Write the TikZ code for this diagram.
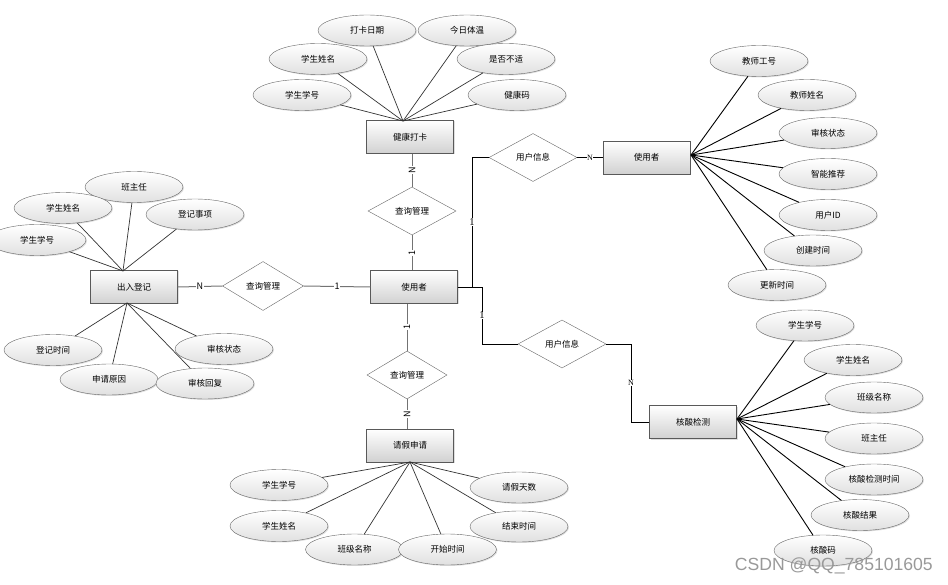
\documentclass[tikz,border=0pt]{standalone}
\usepackage{fontspec}
\setmainfont{Noto Sans CJK SC}
\newfontfamily\serifl{Liberation Serif}
\newfontfamily\wmfont{Liberation Sans}
\usetikzlibrary{shapes.geometric,shadows}
\begin{document}
\begin{tikzpicture}[x=1pt,y=-1pt,
  font=\fontsize{8.5}{10}\selectfont,
  attr/.style={ellipse,draw=black!60,top color=white,bottom color=black!12,
    minimum width=98,minimum height=31,inner sep=0pt,
    drop shadow={shadow xshift=1pt,shadow yshift=-1pt,opacity=0.25}},
  ent/.style={rectangle,draw=black!65,top color=white,bottom color=black!18,
    minimum width=87,minimum height=33,inner sep=0pt,
    drop shadow={shadow xshift=1pt,shadow yshift=-1pt,opacity=0.25}},
  rel/.style={diamond,draw=black!60,fill=white,minimum width=88,minimum height=48,
    inner sep=0pt,shape aspect=1.8},
  ln/.style={draw=black!80,line width=0.7pt},
  rl/.style={draw=black!55,line width=1pt},
  cl/.style={draw=black,line width=0.9pt},
  lab/.style={fill=white,inner sep=0.6pt,font=\fontsize{9}{10}\selectfont},
  slab/.style={fill=white,inner sep=0.5pt,font=\serifl\fontsize{10.5}{10}\selectfont},
]
\useasboundingbox (0,0) rectangle (948,585);

% ---------- entities ----------
\node[ent] (jkdk) at (410,137) {健康打卡};
\node[ent] (syz) at (414,287) {使用者};
\node[ent] (ldj) at (134,287) {出入登记};
\node[ent] (qjsq) at (410,445.5) {请假申请};
\node[ent] (syr) at (646.5,157.5) {使用者};
\node[ent] (hsjc) at (693,422) {核酸检测};

% ---------- relations ----------
\node[rel] (cxT) at (412,211) {查询管理};
\node[rel,minimum width=80] (cxB) at (407,375) {查询管理};
\node[rel,minimum width=81,minimum height=49] (cxL) at (263,286) {查询管理};
\node[rel] (yh1) at (533,157.5) {用户信息};
\node[rel] (yh2) at (562,344) {用户信息};

% ---------- attribute convergence points ----------
\coordinate (cJ) at (403,121);
\coordinate (cLt) at (123,271);
\coordinate (cLb) at (127,303);
\coordinate (cR) at (691,155);
\coordinate (cH) at (737,419);
\coordinate (cQ) at (410,462);
\coordinate (k1) at (472,287);
\coordinate (k2) at (482,287);
\coordinate (k3) at (631,422);

% ---------- 健康打卡 attributes ----------
\node[attr] (j1) at (367,30.5) {打卡日期};
\node[attr] (j2) at (467,30.5) {今日体温};
\node[attr] (j3) at (318,59) {学生姓名};
\node[attr] (j4) at (506,59) {是否不适};
\node[attr] (j5) at (302,95) {学生学号};
\node[attr] (j6) at (517,95) {健康码};
\foreach \n in {j1,j2,j3,j4,j5,j6} \draw[ln] (\n) -- (cJ);

% ---------- 出入登记 attributes ----------
\node[attr] (l1) at (134,187) {班主任};
\node[attr] (l2) at (63,208) {学生姓名};
\node[attr] (l3) at (195,214.5) {登记事项};
\node[attr] (l4) at (37,240) {学生学号};
\foreach \n in {l1,l2,l3,l4} \draw[ln] (\n) -- (cLt);
\node[attr] (l5) at (53,350) {登记时间};
\node[attr] (l6) at (109,379.5) {申请原因};
\node[attr] (l7) at (224,349) {审核状态};
\node[attr] (l8) at (205,383.5) {审核回复};
\foreach \n in {l5,l6,l7,l8} \draw[ln] (\n) -- (cLb);

% ---------- 请假申请 attributes ----------
\node[attr] (q1) at (279,485) {学生学号};
\node[attr] (q2) at (279,526) {学生姓名};
\node[attr] (q3) at (354.5,549.5) {班级名称};
\node[attr] (q4) at (447.5,549.5) {开始时间};
\node[attr] (q5) at (519,487.5) {请假天数};
\node[attr] (q6) at (519,526.5) {结束时间};
\foreach \n in {q1,q2,q3,q4,q5,q6} \draw[ln] (\n) -- (cQ);

% ---------- 使用者 (right) attributes ----------
\node[attr] (t1) at (759,61) {教师工号};
\node[attr] (t2) at (807,95) {教师姓名};
\node[attr] (t3) at (828,133) {审核状态};
\node[attr] (t4) at (828,174) {智能推荐};
\node[attr] (t5) at (828,215) {用户ID};
\node[attr] (t6) at (813,250.5) {创建时间};
\node[attr] (t7) at (777,285) {更新时间};
\foreach \n in {t1,t2,t3,t4,t5,t6,t7} \draw[cl] (\n) -- (cR);

% ---------- 核酸检测 attributes ----------
\node[attr] (h1) at (805,325.5) {学生学号};
\node[attr] (h2) at (853,360) {学生姓名};
\node[attr] (h3) at (874,397.5) {班级名称};
\node[attr] (h4) at (874,438.5) {班主任};
\node[attr] (h5) at (874,479.5) {核酸检测时间};
\node[attr] (h6) at (860,515) {核酸结果};
\node[attr] (h7) at (823,550.5) {核酸码};
\foreach \n in {h1,h2,h3,h4,h5,h6,h7} \draw[cl] (\n) -- (cH);

% ---------- relationship connectors ----------
\draw[rl] (jkdk.south -| cxT) -- node[lab,rotate=90]{N} (cxT.north);
\draw[rl] (cxT.south) -- node[lab,rotate=90]{1} (cxT.south |- syz.north);
\draw[rl] (syz.south -| cxB) -- node[lab,rotate=90]{1} (cxB.north);
\draw[rl] (cxB.south) -- node[lab,rotate=90]{N} (cxB.south |- qjsq.north);
\draw[rl] (ldj.east) -- node[lab]{N} (cxL.west);
\draw[rl] (cxL.east) -- node[lab]{1} (syz.west);

\draw[cl] (syz.east) -- (k1) |- node[slab,pos=0.25]{1} (yh1.west);
\draw[cl] (yh1.east) -- node[slab,font=\serifl\fontsize{8}{8}\selectfont]{N} (syr.west);
\draw[cl] (k1) -- (k2) |- node[slab,pos=0.25]{1} (yh2.west);
\draw[cl] (yh2.east) -| node[slab,pos=0.75,font=\serifl\fontsize{8}{8}\selectfont]{N} (k3) -- (hsjc.west);

% ---------- watermark ----------
\node[text=black!40,font=\wmfont\fontsize{17.6}{18}\selectfont,anchor=east,inner sep=0pt] (wm) at (933,566) {CSDN @QQ\_785101605};
\end{tikzpicture}
\end{document}
